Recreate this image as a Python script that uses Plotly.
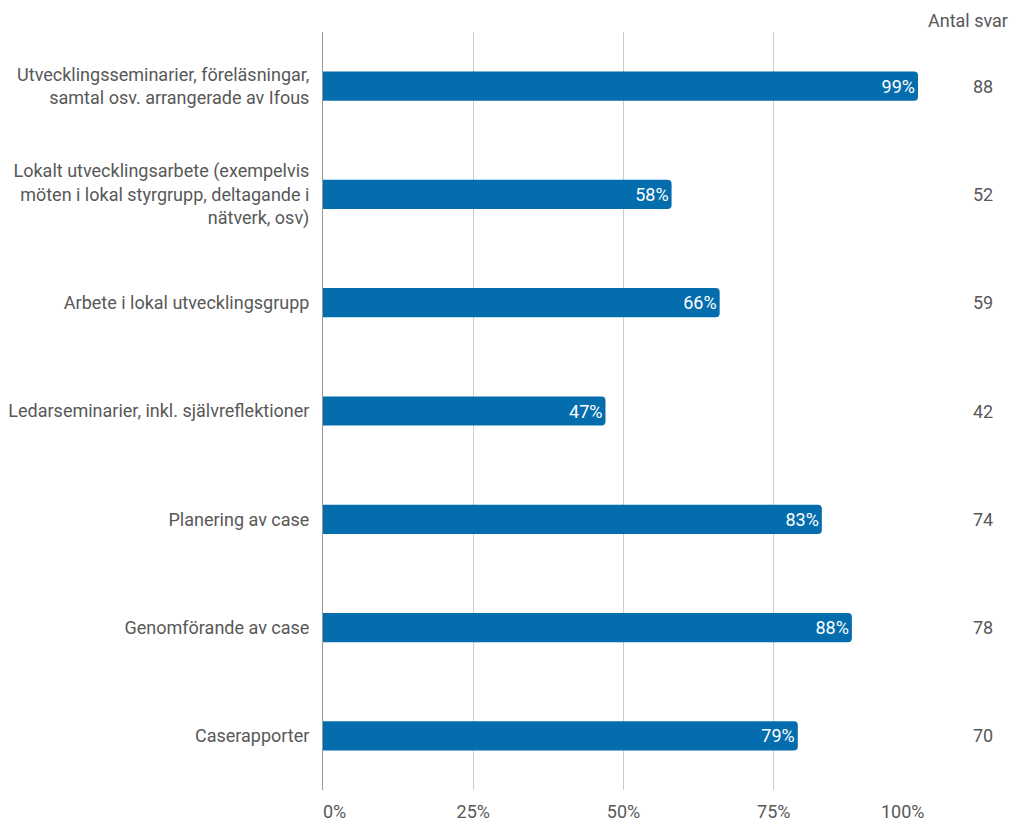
import plotly.graph_objects as go

categories = [
    "Utvecklingsseminarier, föreläsningar,<br>samtal osv. arrangerade av Ifous",
    "Lokalt utvecklingsarbete (exempelvis<br>möten i lokal styrgrupp, deltagande i<br>nätverk, osv)",
    "Arbete i lokal utvecklingsgrupp",
    "Ledarseminarier, inkl. självreflektioner",
    "Planering av case",
    "Genomförande av case",
    "Caserapporter",
]
percent = [99, 58, 66, 47, 83, 88, 79]
antal_svar = [88, 52, 59, 42, 74, 78, 70]
tick_vals = [0, 25, 50, 75, 100]
tick_text = ["0%", "25%", "50%", "75%", "100%"]
header = "Antal svar"

FONT = "Roboto"
GREY = "#585858"
FS = 18

fig = go.Figure()
fig.add_trace(go.Bar(
    x=percent,
    y=categories,
    orientation="h",
    marker=dict(color="#036DAD", line=dict(width=0)),
    text=[f"{v}%" for v in percent],
    textposition="inside",
    insidetextanchor="end",
    textfont=dict(family=FONT, size=FS, color="white"),
    cliponaxis=False,
    hoverinfo="skip",
))

annotations = []
for cat, n in zip(categories, antal_svar):
    annotations.append(dict(
        x=1.098, xref="paper", y=cat, yref="y",
        text=str(n), showarrow=False, xanchor="center", yanchor="middle",
        font=dict(family=FONT, size=FS, color=GREY),
    ))
annotations.append(dict(
    x=1.073, xref="paper", y=1.0, yref="paper", yshift=12,
    text=header, showarrow=False, xanchor="center", yanchor="middle",
    font=dict(family=FONT, size=FS, color=GREY),
))

# first and last x tick labels are aligned to the plot edges (left / right)
axis_ticktext = list(tick_text)
for i, anchor in ((0, "left"), (len(tick_vals) - 1, "right")):
    axis_ticktext[i] = ""
    annotations.append(dict(
        x=tick_vals[i], xref="x", y=0, yref="paper", yshift=-9,
        text=tick_text[i], showarrow=False, xanchor=anchor, yanchor="top",
        xshift=-2 if anchor == "left" else 3,
        font=dict(family=FONT, size=FS, color=GREY),
    ))

fig.update_layout(
    width=1011, height=813,
    margin=dict(l=315, r=95, t=24, b=31, autoexpand=False),
    paper_bgcolor="white", plot_bgcolor="white",
    bargap=0.73,
    barcornerradius=4,
    showlegend=False,
    annotations=annotations,
    font=dict(family=FONT, size=FS, color=GREY),
)
fig.update_xaxes(
    range=[0, 100],
    tickvals=tick_vals, ticktext=axis_ticktext,
    showgrid=True, gridcolor="#cccccc", gridwidth=1,
    zeroline=False, showline=False,
    tickfont=dict(family=FONT, size=FS, color=GREY),
    ticks="", ticklabelstandoff=9,
    fixedrange=True,
)
fig.update_yaxes(
    categoryorder="array", categoryarray=categories[::-1],
    showgrid=False, zeroline=False,
    showline=True, linecolor="#999999", linewidth=1,
    ticks="", ticklabelstandoff=9,
    tickfont=dict(family=FONT, size=FS, color=GREY),
    fixedrange=True,
)

fig.write_html("out.html")
